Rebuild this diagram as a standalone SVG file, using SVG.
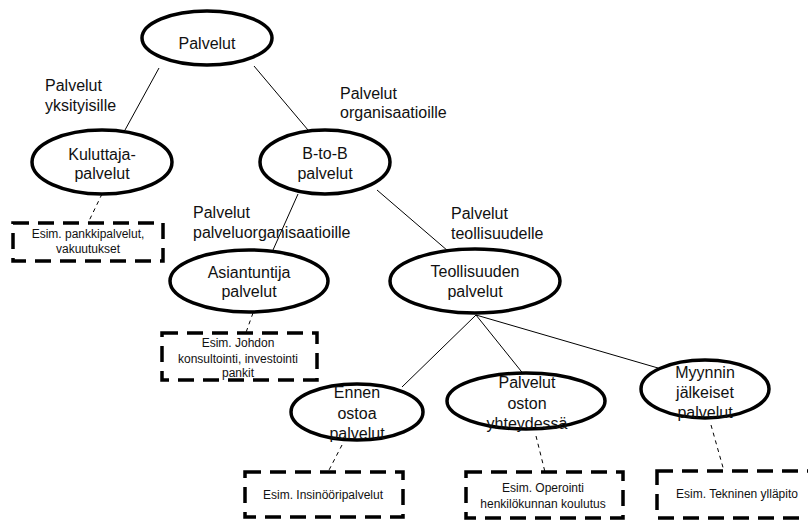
<svg xmlns="http://www.w3.org/2000/svg" width="808" height="521" viewBox="0 0 808 521">
<style>
  .node ellipse { fill: #fff; stroke: #000; stroke-width: 3.5; }
  .box rect { fill: #fff; stroke: #000; stroke-width: 3.5; stroke-dasharray: 16 9; }
  text { font-family: "Liberation Sans", Arial, sans-serif; fill: #111; }
  .nt { font-size: 16px; text-anchor: middle; }
  .lbl { font-size: 16px; }
  .bt { font-size: 12px; text-anchor: middle; }
  .edge { stroke: #000; stroke-width: 1; fill: none; }
  .dash { stroke: #000; stroke-width: 1; fill: none; stroke-dasharray: 4 4; }
</style>
<rect width="808" height="521" fill="#fff"/>
<g id="connectors">
  <line class="edge" x1="159" y1="68" x2="125" y2="130"/>
  <line class="edge" x1="254" y1="66" x2="308" y2="130"/>
  <line class="edge" x1="298" y1="194" x2="273" y2="250"/>
  <line class="edge" x1="377" y1="190" x2="448" y2="251"/>
  <line class="edge" x1="476" y1="315" x2="402" y2="387"/>
  <line class="edge" x1="476" y1="315" x2="525" y2="376"/>
  <line class="edge" x1="476" y1="315" x2="658" y2="368"/>
  <line class="dash" x1="102" y1="194" x2="88" y2="223"/>
  <line class="dash" x1="253" y1="313" x2="244" y2="338"/>
  <line class="dash" x1="342" y1="445" x2="328" y2="472"/>
  <line class="dash" x1="536" y1="436" x2="545" y2="472"/>
  <line class="dash" x1="711" y1="425" x2="724" y2="471"/>
</g>
<g id="labels">
  <text class="lbl" x="45" y="91">Palvelut</text>
  <text class="lbl" x="45" y="111">yksityisille</text>
  <text class="lbl" x="340" y="99">Palvelut</text>
  <text class="lbl" x="340" y="118">organisaatioille</text>
  <text class="lbl" x="193" y="218">Palvelut</text>
  <text class="lbl" x="193" y="238">palveluorganisaatioille</text>
  <text class="lbl" x="451" y="219">Palvelut</text>
  <text class="lbl" x="451" y="239">teollisuudelle</text>
</g>
<g id="palvelut" class="node">
  <ellipse cx="207" cy="38" rx="65" ry="27"/>
  <text class="nt" x="207" y="49">Palvelut</text>
</g>
<g id="kuluttaja" class="node">
  <ellipse cx="102" cy="162" rx="70" ry="32"/>
  <text class="nt" x="102" y="160">Kuluttaja-</text>
  <text class="nt" x="102" y="179">palvelut</text>
</g>
<g id="btob" class="node">
  <ellipse cx="325" cy="162" rx="65" ry="32"/>
  <text class="nt" x="325" y="159">B-to-B</text>
  <text class="nt" x="325" y="179">palvelut</text>
</g>
<g id="asiantuntija" class="node">
  <ellipse cx="249" cy="281" rx="79" ry="31"/>
  <text class="nt" x="249" y="278">Asiantuntija</text>
  <text class="nt" x="249" y="297">palvelut</text>
</g>
<g id="teollisuuden" class="node">
  <ellipse cx="475" cy="281" rx="85" ry="32"/>
  <text class="nt" x="475" y="277">Teollisuuden</text>
  <text class="nt" x="475" y="297">palvelut</text>
</g>
<g id="ennen" class="node">
  <ellipse cx="357" cy="412" rx="66" ry="28"/>
  <text class="nt" x="357" y="398">Ennen</text>
  <text class="nt" x="357" y="419">ostoa</text>
  <text class="nt" x="357" y="439">palvelut</text>
</g>
<g id="oston" class="node">
  <ellipse cx="526" cy="401" rx="79" ry="28"/>
  <text class="nt" x="527" y="388">Palvelut</text>
  <text class="nt" x="527" y="409">oston</text>
  <text class="nt" x="527" y="429">yhteydessä</text>
</g>
<g id="myynnin" class="node">
  <ellipse cx="705" cy="389" rx="64" ry="29"/>
  <text class="nt" x="705" y="378">Myynnin</text>
  <text class="nt" x="705" y="398">jälkeiset</text>
  <text class="nt" x="705" y="418">palvelut</text>
</g>
<g id="box-kuluttaja" class="box">
  <rect x="13" y="223" width="150" height="38"/>
  <text class="bt" x="88" y="238">Esim. pankkipalvelut,</text>
  <text class="bt" x="88" y="253">vakuutukset</text>
</g>
<g id="box-asiantuntija" class="box">
  <rect x="162" y="333" width="155" height="47"/>
  <text class="bt" x="238" y="347">Esim.  Johdon</text>
  <text class="bt" x="238" y="363">konsultointi, investointi</text>
  <text class="bt" x="238" y="377">pankit</text>
</g>
<g id="box-ennen" class="box">
  <rect x="245" y="472" width="158" height="45"/>
  <text class="bt" x="323" y="499">Esim.  Insinööripalvelut</text>
</g>
<g id="box-oston" class="box">
  <rect x="466" y="472" width="157" height="46"/>
  <text class="bt" x="543" y="492">Esim.  Operointi</text>
  <text class="bt" x="543" y="508">henkilökunnan koulutus</text>
</g>
<g id="box-myynnin" class="box">
  <rect x="657" y="471" width="160" height="47"/>
  <text class="bt" x="737" y="498">Esim.  Tekninen ylläpito</text>
</g>
</svg>
